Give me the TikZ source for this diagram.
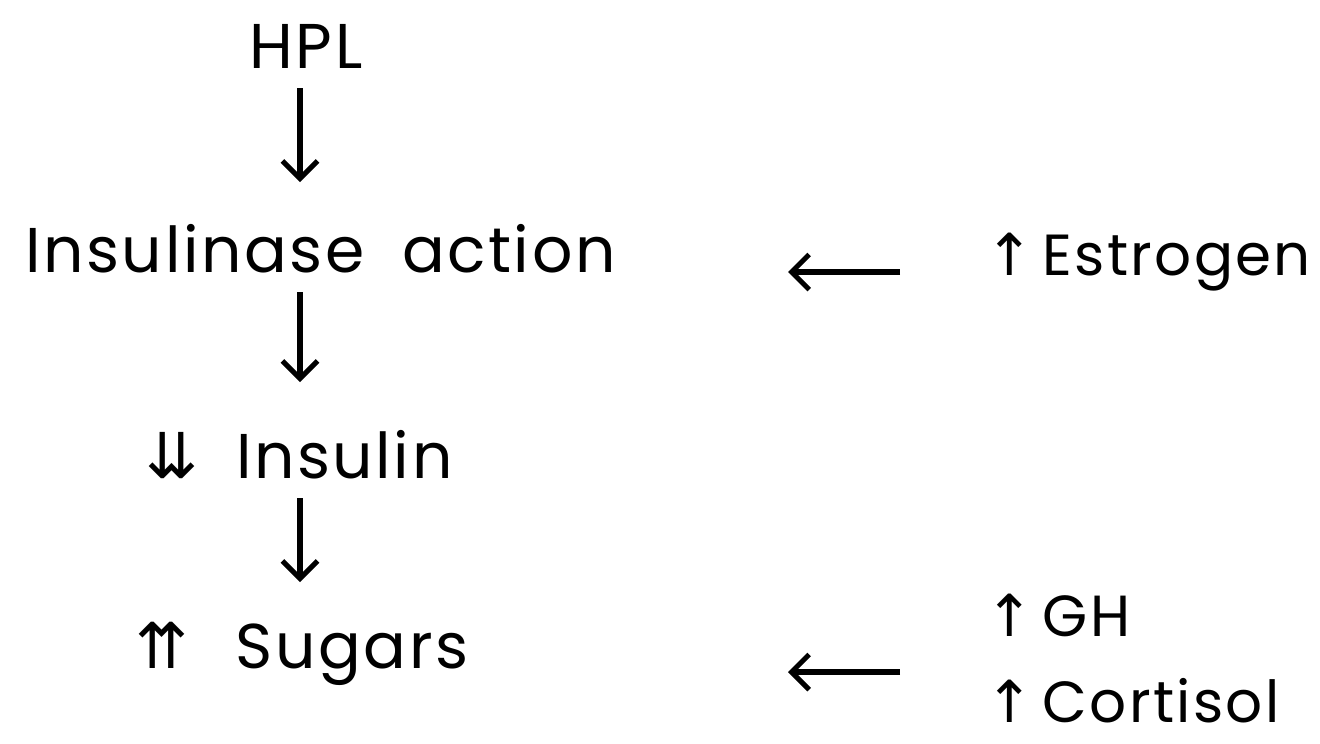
\documentclass[tikz,border=0pt]{standalone}
\usepackage{fontspec}
\setmainfont{Poppins}[LetterSpace=4]
\newfontfamily\symfont{DejaVu Sans}
\usetikzlibrary{arrows.meta}
\begin{document}
\begin{tikzpicture}[x=0.02cm,y=-0.02cm,
  lbl/.style={font=\fontsize{36}{40}\selectfont, inner sep=0pt, anchor=base west},
  side/.style={font=\fontsize{33}{37}\selectfont, inner sep=0pt, anchor=base west},
  flow/.style={line width=2.9pt, -{Straight Barb[length=10pt,width=20pt,line width=2.9pt]}}]
\useasboundingbox (0,0) rectangle (1320,744);
\fill[white] (0,0) rectangle (1320,744);

% main chain
\node[lbl, anchor=base] (hpl) at (306,68) {HPL};
\node[lbl] (ins) at (25,272) {Insulinase\hspace{0.6em}action};
\node[lbl] (insulin) at (145,478) {{\symfont ⇊}\hspace{0.6em}Insulin};
\node[lbl] (sug) at (135,668) {{\symfont ⇈}\hspace{0.75em}Sugars};

\coordinate (a1s) at (300,88);  \coordinate (a1e) at (300,182);
\coordinate (a2s) at (300,292); \coordinate (a2e) at (300,382);
\coordinate (a3s) at (300,498); \coordinate (a3e) at (300,582);
\draw[flow] (a1s) -- (a1e);
\draw[flow] (a2s) -- (a2e);
\draw[flow] (a3s) -- (a3e);

% hormonal influences
\node[side] (estr) at (985,275) {{\symfont ↑}\hspace{0.15em}Estrogen};
\node[side] (gh) at (985,636) {{\symfont ↑}\hspace{0.15em}GH};
\node[side] (cort) at (985,722) {{\symfont ↑}\hspace{0.15em}Cortisol};

\coordinate (b1s) at (900,272); \coordinate (b1e) at (788,272);
\coordinate (b2s) at (900,672); \coordinate (b2e) at (788,672);
\draw[flow] (b1s) -- (b1e);
\draw[flow] (b2s) -- (b2e);
\end{tikzpicture}
\end{document}
